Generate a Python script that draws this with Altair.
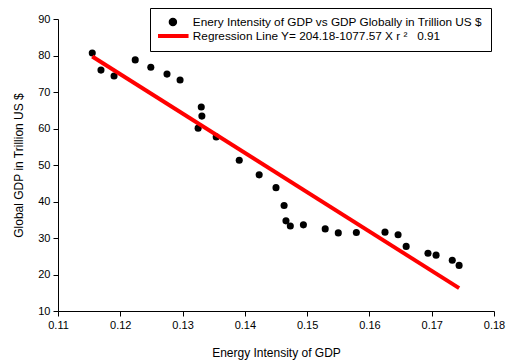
import altair as alt
import pandas as pd

energy_intensity = [0.1155, 0.1169, 0.1190, 0.1224, 0.1249, 0.1275, 0.1296, 0.1330, 0.1331,
                    0.1325, 0.1354, 0.1391, 0.1423, 0.1450, 0.1463, 0.1466, 0.1473, 0.1494,
                    0.1529, 0.1550, 0.1579, 0.1625, 0.1646, 0.1659, 0.1694, 0.1707, 0.1733, 0.1744]
gdp = [80.7, 76.0, 74.4, 78.8, 76.8, 74.9, 73.3, 65.9, 63.4,
       60.1, 57.7, 51.3, 47.3, 43.8, 38.9, 34.7, 33.3, 33.6,
       32.5, 31.4, 31.5, 31.6, 30.9, 27.7, 25.8, 25.3, 23.9, 22.5]
intercept = 204.18
slope = -1077.57

L1 = "Enery Intensity of GDP vs GDP Globally in Trillion US $"
L2 = "Regression Line Y= 204.18-1077.57 X r \u00b2\u00a0\u00a0\u00a00.91"

pts = pd.DataFrame({"x": energy_intensity, "y": gdp, "series": L1})
line_x = [min(energy_intensity), max(energy_intensity)]
line = pd.DataFrame({"x": line_x, "series": L2})

FONT = "Liberation Sans"
color_scale = alt.Scale(domain=[L1, L2], range=["black", "red"])
shape_scale = alt.Scale(domain=[L1, L2], range=["circle", "M-7,0H7"])
legend = alt.Legend(title=None, orient="none", legendX=92, legendY=-11,
                    strokeColor="black", fillColor="white", padding=8,
                    labelFont=FONT, labelFontSize=11.8, labelColor="black",
                    symbolSize=20, symbolStrokeWidth=4, rowPadding=1, clipHeight=12,
                    symbolOffset=9, labelOffset=14,
                    labelLimit=400, cornerRadius=0)

xs = alt.X("x:Q", scale=alt.Scale(domain=[0.11, 0.18], nice=False, zero=False),
           axis=alt.Axis(title="Energy Intensity of GDP", format=".2f",
                         values=[0.11, 0.12, 0.13, 0.14, 0.15, 0.16, 0.17, 0.18]))
ys = alt.Y("y:Q", scale=alt.Scale(domain=[10, 90], nice=False, zero=False),
           axis=alt.Axis(title="Global GDP in Trillion US $",
                         values=[10, 20, 30, 40, 50, 60, 70, 80, 90]))

points = alt.Chart(pts).mark_point(filled=True, size=50, opacity=1).encode(
    x=xs, y=ys,
    color=alt.Color("series:N", scale=color_scale, legend=legend),
    shape=alt.Shape("series:N", scale=shape_scale, legend=legend),
)

reg = alt.Chart(line).transform_calculate(
    y=f"{intercept} + ({slope}) * datum.x"
).mark_line(strokeWidth=4).encode(
    x=xs, y=ys,
    color=alt.Color("series:N", scale=color_scale, legend=legend),
)

chart = alt.layer(points, reg).properties(
    width=436, height=292,
    autosize=alt.AutoSizeParams(type="none"),
    padding={"left": 58, "top": 19, "right": 13, "bottom": 52},
).configure_view(stroke=None).configure_axis(
    grid=False, domainColor="black", tickColor="black", tickSize=5,
    labelFont=FONT, labelFontSize=11, labelColor="black", labelFlush=False,
    titleFont=FONT, titleFontSize=12, titleFontWeight="normal", titleColor="black",
    labelPadding=3,
).configure_axisX(titlePadding=17).configure_axisY(titlePadding=12)

chart.save("out.html", embed_options={"renderer": "svg", "actions": False})
